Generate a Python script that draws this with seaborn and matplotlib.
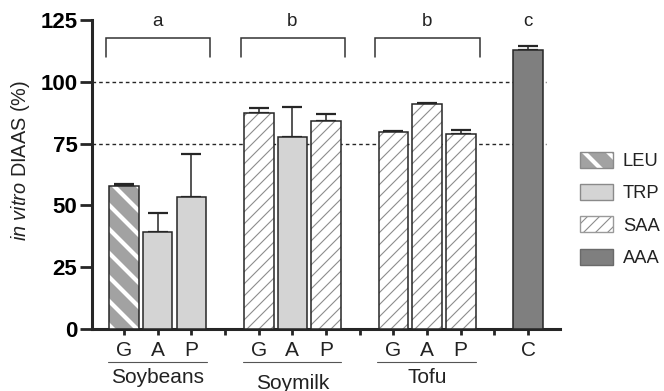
import matplotlib
matplotlib.use("Agg")
import matplotlib.pyplot as plt
import seaborn as sns
import pandas as pd
from matplotlib.patches import Patch, Rectangle
from matplotlib.legend_handler import HandlerTuple, HandlerPatch
from matplotlib.transforms import blended_transform_factory

# ---------------- data ----------------
groups = ["Soybeans", "Soymilk", "Tofu", ""]
samples = ["G", "A", "P", "G", "A", "P", "G", "A", "P", "C"]
sample_group = [0, 0, 0, 1, 1, 1, 2, 2, 2, 3]
limiting_aa = ["LEU", "TRP", "TRP", "SAA", "TRP", "SAA", "SAA", "SAA", "SAA", "AAA"]
diaas = [57.9, 39.4, 53.3, 87.6, 77.6, 84.3, 79.9, 91.1, 78.8, 113.0]
sd = [0.8, 7.7, 17.6, 1.7, 12.1, 2.6, 0.4, 0.4, 1.6, 1.6]
group_letters = ["a", "b", "b", "c"]
reference_lines = [100, 75]
legend_order = ["LEU", "TRP", "SAA", "AAA"]
yticks = [0, 25, 50, 75, 100, 125]

# ---------------- style ----------------
DPI = 72
S = 100.0 / DPI  # sizes below were tuned in points at 100 dpi

sns.set_theme(style="ticks")
plt.rcParams["font.family"] = ["Liberation Sans", "DejaVu Sans"]
plt.rcParams["mathtext.fontset"] = "custom"
plt.rcParams["mathtext.rm"] = "Liberation Sans"
plt.rcParams["mathtext.it"] = "Liberation Sans:italic"

DARK = "#262626"
styles = {
    "LEU": dict(face="#a2a2a2", hatch="\\", hcolor="white", hlw=4.2, legend_edge="#8a8a8a"),
    "TRP": dict(face="#d4d4d4", hatch=None, hcolor=None, hlw=None, legend_edge="#8a8a8a"),
    "SAA": dict(face="white", hatch="//", hcolor="#8c8c8c", hlw=1.1, legend_edge="#9a9a9a"),
    "AAA": dict(face="#7f7f7f", hatch=None, hcolor=None, hlw=None, legend_edge="#6a6a6a"),
}

# positions: each group occupies 4 slots (3 bars + a gap)
within = {}
positions = []
for g in sample_group:
    k = within.get(g, 0)
    within[g] = k + 1
    positions.append(g * 4 + 1 + k)

df = pd.DataFrame({"pos": positions, "diaas": diaas, "sd": sd, "aa": limiting_aa})

fig = plt.figure(figsize=(664 / DPI, 391 / DPI), dpi=DPI)
ax = fig.add_axes([0.1386, 0.1586, 0.7048, 0.790])

sns.barplot(data=df, x="pos", y="diaas", native_scale=True, width=0.88,
            color="white", errorbar=None, ax=ax, zorder=3)

bars = sorted([p for p in ax.patches if isinstance(p, Rectangle)], key=lambda p: p.get_x())
for p, aa in zip(bars, df.sort_values("pos")["aa"]):
    st = styles[aa]
    p.set_facecolor(st["face"])
    if st["hatch"]:
        p.set_hatch(st["hatch"])
        p.set_edgecolor(st["hcolor"])
        p.set_linewidth(0)
        if hasattr(p, "set_hatch_linewidth"):
            p.set_hatch_linewidth(st["hlw"])
        border = Rectangle((p.get_x(), p.get_y()), p.get_width(), p.get_height(),
                           fill=False, edgecolor=DARK, linewidth=1.1 * S, zorder=4)
        ax.add_patch(border)
    else:
        p.set_edgecolor(DARK)
        p.set_linewidth(1.1 * S)

# upper error bars
ax.errorbar(df["pos"], df["diaas"], yerr=[[0] * len(df), df["sd"]], fmt="none",
            ecolor=DARK, elinewidth=1.1 * S, capsize=7.5 * S, capthick=1.6 * S, zorder=2)

# reference lines
for yv in reference_lines:
    ax.axhline(yv, xmin=0, xmax=0.97, color=DARK, lw=1.0 * S, ls=(0, (2.6, 2.2)), zorder=1)

# brackets and letters
n_groups = len(groups)
for gi in range(n_groups):
    first = gi * 4 + 1
    ax.text(first + 1 if gi < 3 else first, 124.5, group_letters[gi], ha="center", va="center",
            fontsize=13.5 * S, color="#222222", clip_on=False)
    if gi < 3:
        x0, x1 = first - 0.54, first + 2.56
        ax.plot([x0, x0, x1, x1], [110, 117.8, 117.8, 110], color="#333333", lw=1.1 * S,
                solid_joinstyle="miter", clip_on=False)

# axes
ax.set_xlim(0.05, 13.95)
ax.set_ylim(0, 125)
ax.set_yticks(yticks)
ax.set_yticklabels([str(v) for v in yticks], fontweight="bold", fontsize=16 * S)
all_ticks = list(range(1, 14))
tick_labels = []
for t in all_ticks:
    tick_labels.append(samples[positions.index(t)] if t in positions else "")
ax.set_xticks(all_ticks)
ax.set_xticklabels(tick_labels, fontsize=15 * S)
ax.tick_params(axis="y", length=9 * S, width=2.0 * S, pad=1.5 * S, color=DARK, labelcolor="black")
ax.tick_params(axis="x", length=4 * S, width=2.0 * S, pad=4.5 * S, color=DARK, labelcolor="#222222")
for s in ["top", "right"]:
    ax.spines[s].set_visible(False)
for s in ["left", "bottom"]:
    ax.spines[s].set_linewidth(2.2 * S)
    ax.spines[s].set_color(DARK)
ax.set_xlabel("")
ax.set_ylabel(r"$\mathit{in\ vitro}$ DIAAS (%)", fontsize=14.3 * S, color="#222222")
ax.yaxis.set_label_coords(-0.128, 0.544)

# group underlines and names
trans = blended_transform_factory(ax.transData, ax.transAxes)
for gi in range(3):
    first = gi * 4 + 1
    ax.plot([first - 0.48, first + 2.45], [-0.107, -0.107], color="#555555", lw=0.8 * S,
            transform=trans, clip_on=False)
    ax.text(first + 1, -0.157 if gi != 1 else -0.175, groups[gi], ha="center", va="center",
            fontsize=15 * S, color="#222222", transform=trans)


# legend
class HatchHandler(HandlerPatch):
    def create_artists(self, legend, orig_handle, xdescent, ydescent, width, height,
                       fontsize, trans):
        arts = super().create_artists(legend, orig_handle, xdescent, ydescent, width,
                                      height, fontsize, trans)
        if hasattr(orig_handle, "get_hatch_linewidth"):
            for a in arts:
                a.set_hatch_linewidth(orig_handle.get_hatch_linewidth())
        return arts


handles = []
for aa in legend_order:
    st = styles[aa]
    if st["hatch"]:
        h1 = Patch(facecolor=st["face"], edgecolor=st["hcolor"], hatch=st["hatch"], linewidth=0)
        if hasattr(h1, "set_hatch_linewidth"):
            h1.set_hatch_linewidth(st["hlw"])
        h2 = Patch(fill=False, edgecolor=st["legend_edge"], linewidth=1.0 * S)
        handles.append((h1, h2))
    else:
        handles.append(Patch(facecolor=st["face"], edgecolor=st["legend_edge"], linewidth=1.0 * S))
fig.legend(handles, legend_order,
           handler_map={tuple: HandlerTuple(ndivide=1, pad=0), Patch: HatchHandler()},
           loc="upper left", bbox_to_anchor=(0.873, 0.612), frameon=False,
           fontsize=13.2 * S, handlelength=1.8, handleheight=0.98,
           handletextpad=0.55, labelspacing=0.76, borderpad=0, borderaxespad=0,
           labelcolor="#222222")

fig.savefig("out.png", dpi=DPI)
